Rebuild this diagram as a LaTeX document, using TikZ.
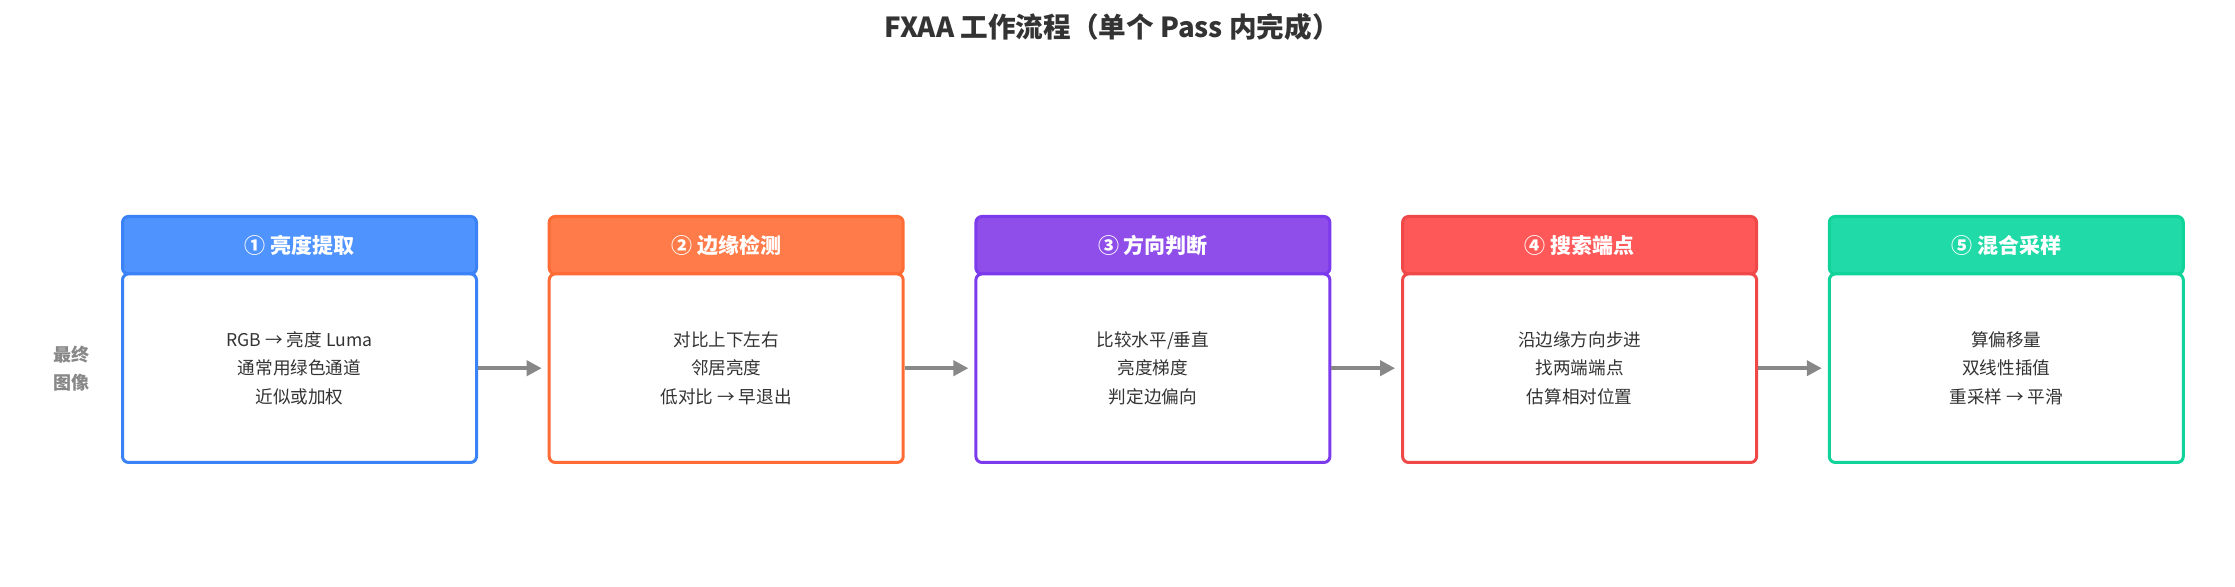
\documentclass[tikz,border=0pt]{standalone}
\usepackage{fontspec}
\newfontfamily\cjk{Noto Sans CJK SC}
\usetikzlibrary{positioning,arrows.meta}
\definecolor{txtgray}{HTML}{333333}
\definecolor{arrgray}{HTML}{888888}
\definecolor{bluefill}{HTML}{4F93FF}
\definecolor{blueline}{HTML}{3B82F6}
\definecolor{orangefill}{HTML}{FF7B4A}
\definecolor{orangeline}{HTML}{FF6B35}
\definecolor{purplefill}{HTML}{8F4EEA}
\definecolor{purpleline}{HTML}{7C3AED}
\definecolor{redfill}{HTML}{FF5858}
\definecolor{redline}{HTML}{F04848}
\definecolor{greenfill}{HTML}{20DBA8}
\definecolor{greenline}{HTML}{10D39A}

\begin{document}
\begin{tikzpicture}[node distance=34.85pt,
    head/.style={draw=#1line,fill=#1fill,line width=1.5pt,rounded corners=3pt,
      minimum width=177pt,minimum height=28.75pt,text=white,
      font=\cjk\bfseries\fontsize{10.5}{12}\selectfont},
    body/.style={draw=#1line,fill=white,line width=1.5pt,rounded corners=3pt,
      minimum width=177pt,minimum height=94.25pt,align=center,text=txtgray,
      font=\cjk\fontsize{8.8}{14.25}\selectfont},
    flow/.style={-{Triangle[length=7.5pt,width=7.5pt]},line width=2pt,arrgray,shorten >=3pt}]
    \useasboundingbox (0,0) rectangle (1117.5pt,-293pt);

    \node[font=\cjk\bfseries\fontsize{13.8}{16}\selectfont,text=txtgray] (title)
      at (556pt,-13.5pt) {FXAA 工作流程（单个 Pass 内完成）};

    % stage headers
    \node[head=blue] (h1) at (149.75pt,-122.6pt) {① 亮度提取};
    \node[head=orange,right=of h1] (h2) {② 边缘检测};
    \node[head=purple,right=of h2] (h3) {③ 方向判断};
    \node[head=red,right=of h3] (h4) {④ 搜索端点};
    \node[head=green,right=of h4] (h5) {⑤ 混合采样};

    % stage bodies
    \node[body=blue,below=-1.5pt of h1] (b1) {RGB → 亮度 Luma\\通常用绿色通道\\近似或加权};
    \node[body=orange,below=-1.5pt of h2] (b2) {对比上下左右\\邻居亮度\\低对比 → 早退出};
    \node[body=purple,below=-1.5pt of h3] (b3) {比较水平/垂直\\亮度梯度\\判定边偏向};
    \node[body=red,below=-1.5pt of h4] (b4) {沿边缘方向步进\\找两端端点\\估算相对位置};
    \node[body=green,below=-1.5pt of h5] (b5) {算偏移量\\双线性插值\\重采样 → 平滑};

    \node[left=12pt of b1,align=center,text=arrgray,
      font=\cjk\bfseries\fontsize{9}{14}\selectfont] (out) {最终\\图像};

    \draw[flow] (b1) -- (b2);
    \draw[flow] (b2) -- (b3);
    \draw[flow] (b3) -- (b4);
    \draw[flow] (b4) -- (b5);
\end{tikzpicture}
\end{document}
